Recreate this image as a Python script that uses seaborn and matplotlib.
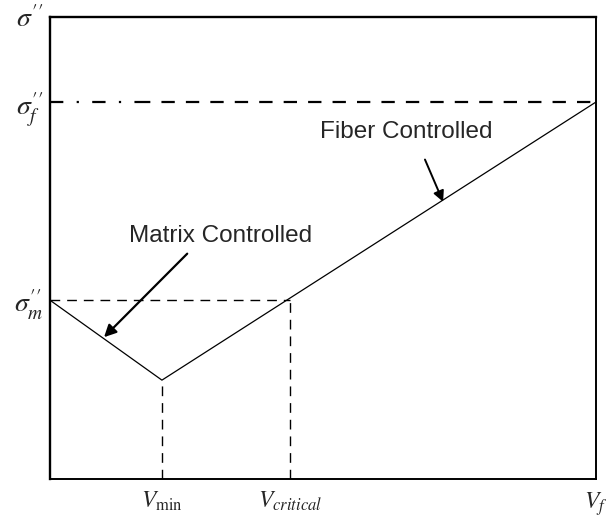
import matplotlib
matplotlib.use("Agg")
import matplotlib.pyplot as plt
import seaborn as sns
import pandas as pd

# ---- data (normalised schematic units) ----
v_fraction = [0.0, 0.205, 1.0]          # fibre volume fraction at the corner points
strength = [0.387, 0.214, 0.816]        # composite strength at those points
v_min = 0.205
v_critical = 0.44
sigma_m = 0.387
sigma_f = 0.816
sigma_min = 0.214
x_tick_labels = [r"$V_{\mathrm{min}}$", r"$V_{critical}$", r"$V_f$"]
y_tick_labels = [r"$\sigma^{\prime\prime}_m$", r"$\sigma^{\prime\prime}_f$", r"$\sigma^{\prime\prime}$"]
annot_matrix = "Matrix Controlled"
annot_fiber = "Fiber Controlled"

sns.set_style("white")
plt.rcParams["mathtext.fontset"] = "stix"
plt.rcParams["font.family"] = ["Liberation Sans", "DejaVu Sans"]

fig = plt.figure(figsize=(6.14, 5.24), dpi=100)
ax = fig.add_axes([50/614, 45/524, 546/614, 462/524])

df = pd.DataFrame({"V": v_fraction, "S": strength})
sns.lineplot(data=df, x="V", y="S", ax=ax, color="black", linewidth=0.9, sort=False)

# dashed guides
ax.plot([0, 0.16], [sigma_f, sigma_f], color="black", lw=1.6, dashes=(6, 6, 1, 6))
ax.plot([0.16, 1.0], [sigma_f, sigma_f], color="black", lw=1.6, dashes=(6, 5))
ax.plot([0, v_critical], [sigma_m, sigma_m], color="black", lw=1.0, dashes=(7, 5))
ax.plot([v_min, v_min], [0, sigma_min], color="black", lw=1.0, dashes=(7, 5))
ax.plot([v_critical, v_critical], [0, sigma_m], color="black", lw=1.0, dashes=(7, 5))

ax.set_xlim(0, 1)
ax.set_ylim(0, 1)
ax.set_xlabel("")
ax.set_ylabel("")

ax.set_xticks([v_min, v_critical, 1.0])
ax.set_xticklabels(x_tick_labels, fontsize=17)
ax.set_yticks([sigma_m, sigma_f, 1.0])
ax.set_yticklabels(y_tick_labels, fontsize=20)
ax.tick_params(axis="both", length=0)
ax.tick_params(axis="x", pad=8)
ax.tick_params(axis="y", pad=5)

for side in ["top", "left"]:
    ax.spines[side].set_linewidth(1.7)
for side in ["bottom", "right"]:
    ax.spines[side].set_linewidth(1.4)
for s in ax.spines.values():
    s.set_color("black")
    s.set_visible(True)

# annotations
ax.annotate(annot_matrix, xy=(0.099, 0.307), xytext=(0.313, 0.525),
            ha="center", va="center", fontsize=17.5,
            arrowprops=dict(arrowstyle="-|>", color="black", lw=1.6,
                            mutation_scale=18, shrinkA=3, shrinkB=0,
                            relpos=(0.35, 0.0)))
ax.annotate(annot_fiber, xy=(0.72, 0.600), xytext=(0.652, 0.750),
            ha="center", va="center", fontsize=17.5,
            arrowprops=dict(arrowstyle="-|>", color="black", lw=1.4,
                            mutation_scale=16, shrinkA=10, shrinkB=0,
                            relpos=(0.57, 0.0)))

fig.savefig("out.png", dpi=100)
